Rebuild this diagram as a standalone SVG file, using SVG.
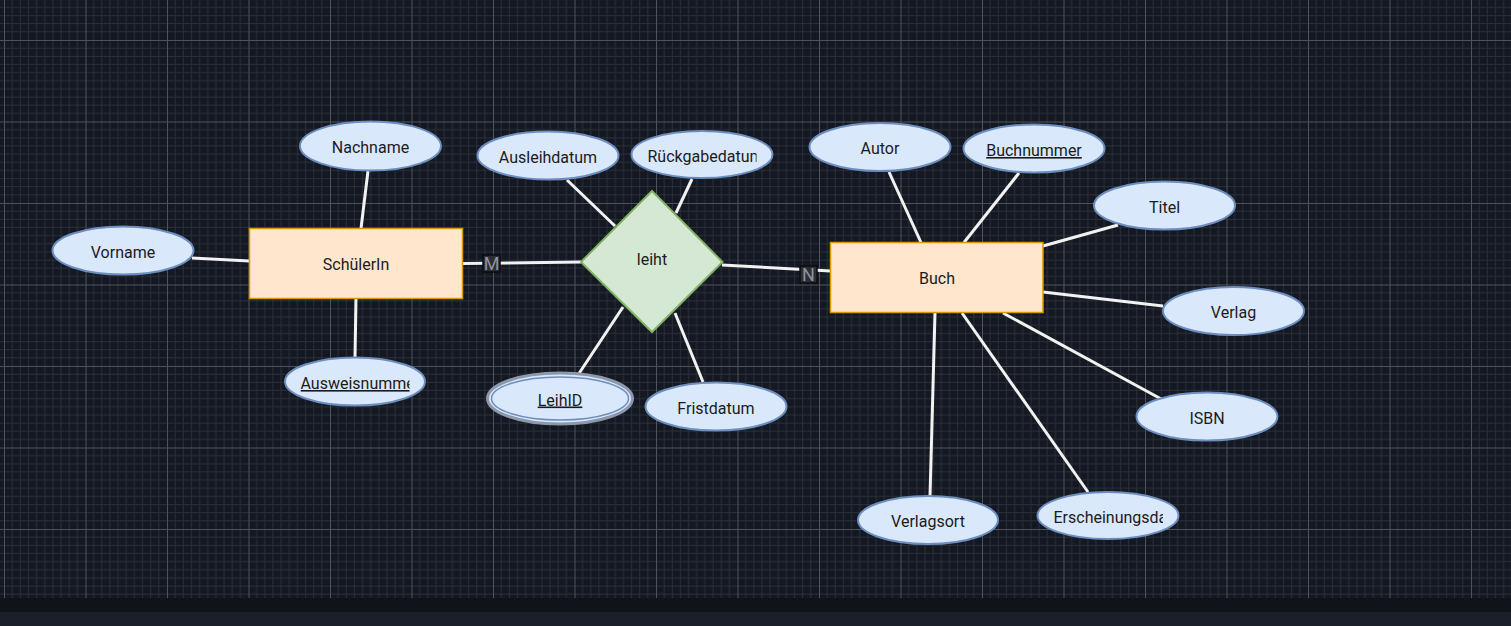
<svg xmlns="http://www.w3.org/2000/svg" width="1511" height="626" viewBox="0 0 1511 626">
  <defs>
    <!-- canvas grid: minor lines every 8.15px, major every 81.5px -->
    <pattern id="grid" patternUnits="userSpaceOnUse" x="4" y="40" width="81.5" height="81.5">
      <path d="M8.15 0V81.5M16.3 0V81.5M24.45 0V81.5M32.6 0V81.5M40.75 0V81.5M48.9 0V81.5M57.05 0V81.5M65.2 0V81.5M73.35 0V81.5M0 8.15H81.5M0 16.3H81.5M0 24.45H81.5M0 32.6H81.5M0 40.75H81.5M0 48.9H81.5M0 57.05H81.5M0 65.2H81.5M0 73.35H81.5" stroke="#2b2f38" stroke-width="1" fill="none"/>
      <path d="M0.5 0V81.5M0 0.5H81.5" stroke="#4e525a" stroke-width="1" fill="none"/>
    </pattern>
    <clipPath id="clipAusweis"><rect x="300.5" y="360" width="109" height="44"/></clipPath>
    <clipPath id="clipRueck"><rect x="647.5" y="132" width="109" height="44"/></clipPath>
    <clipPath id="clipErsch"><rect x="1053.5" y="494" width="109.5" height="44"/></clipPath>
  </defs>
  <style>
    .attr { fill: #dae8fc; stroke: #6c8ebf; stroke-width: 2; }
    .entity { fill: #ffe6cc; stroke: #d79b00; stroke-width: 1.5; }
    .rel { fill: #d5e8d4; stroke: #82b366; stroke-width: 2; }
    .lbl { font-family: Roboto, "Liberation Sans", sans-serif; font-size: 16px; fill: #1b1b1b; text-anchor: middle; }
    .left { text-anchor: start; }
    .key { text-decoration: underline; }
    .edge { stroke: #f2f2f2; stroke-width: 3; fill: none; }
    .card rect { fill: #2c2f36; stroke: #0b0c10; stroke-width: 1.5; }
    .card text { font-family: Roboto, "Liberation Sans", sans-serif; font-size: 18px; fill: #8f939a; text-anchor: middle; }
  </style>

  <!-- background -->
  <rect x="0" y="0" width="1511" height="626" fill="#141822"/>
  <rect x="0" y="0" width="1511" height="598" fill="url(#grid)"/>
  <rect x="0" y="598" width="1511" height="14" fill="#10131a"/>
  <rect x="0" y="612" width="1511" height="14" fill="#1a1f2a"/>

  <!-- connectors -->
  <g id="connectors">
    <line class="edge" x1="192" y1="258" x2="249.5" y2="261"/>
    <line class="edge" x1="368" y1="171" x2="361" y2="228.5"/>
    <line class="edge" x1="356" y1="298.5" x2="355" y2="357"/>
    <line class="edge" x1="463" y1="263.5" x2="581" y2="262"/>
    <line class="edge" x1="567" y1="180" x2="615" y2="226"/>
    <line class="edge" x1="692" y1="179" x2="676" y2="213"/>
    <line class="edge" x1="578" y1="375" x2="623" y2="307"/>
    <line class="edge" x1="703" y1="382" x2="675" y2="313"/>
    <line class="edge" x1="722" y1="265" x2="830.5" y2="271"/>
    <line class="edge" x1="889" y1="172" x2="921" y2="242.5"/>
    <line class="edge" x1="1019" y1="173" x2="964" y2="242.5"/>
    <line class="edge" x1="1118" y1="225" x2="1043" y2="246"/>
    <line class="edge" x1="1043" y1="292" x2="1163" y2="306"/>
    <line class="edge" x1="1003" y1="313" x2="1163" y2="400"/>
    <line class="edge" x1="962" y1="313" x2="1088" y2="492"/>
    <line class="edge" x1="935" y1="313" x2="930" y2="496"/>
    <g class="card">
      <rect x="483" y="255" width="17" height="17"/>
      <text x="491.5" y="270">M</text>
    </g>
    <g class="card">
      <rect x="800" y="266" width="17" height="17"/>
      <text x="808.5" y="281">N</text>
    </g>
  </g>

  <!-- entities -->
  <g id="schuelerin">
    <rect class="entity" x="249.5" y="228.5" width="213" height="70"/>
    <text class="lbl" x="356" y="270">SchülerIn</text>
  </g>
  <g id="buch">
    <rect class="entity" x="830.5" y="242.5" width="212.5" height="70"/>
    <text class="lbl" x="937" y="284">Buch</text>
  </g>

  <!-- relationship -->
  <g id="leiht">
    <polygon class="rel" points="652,191 722.5,262 652,332 581,262"/>
    <text class="lbl" x="652" y="265">leiht</text>
  </g>

  <!-- attributes of SchülerIn -->
  <g id="nachname">
    <ellipse class="attr" cx="370.5" cy="146" rx="70.5" ry="24.5"/>
    <text class="lbl" x="370.5" y="153">Nachname</text>
  </g>
  <g id="vorname">
    <ellipse class="attr" cx="123" cy="250.5" rx="70.5" ry="24"/>
    <text class="lbl" x="123" y="258">Vorname</text>
  </g>
  <g id="ausweisnummer">
    <ellipse class="attr" cx="355" cy="381.5" rx="70" ry="24"/>
    <text class="lbl left key" x="300.5" y="389" clip-path="url(#clipAusweis)">Ausweisnummer</text>
  </g>

  <!-- attributes of leiht -->
  <g id="ausleihdatum">
    <ellipse class="attr" cx="548" cy="155.5" rx="70.5" ry="24"/>
    <text class="lbl" x="548" y="162.5">Ausleihdatum</text>
  </g>
  <g id="rueckgabedatum">
    <ellipse class="attr" cx="702" cy="154.5" rx="70.5" ry="23.5"/>
    <text class="lbl left" x="647.5" y="161.5" clip-path="url(#clipRueck)">Rückgabedatum</text>
  </g>
  <g id="leihid">
    <ellipse cx="560" cy="398.5" rx="72.5" ry="25.5" fill="#dae8fc" stroke="#8d99aa" stroke-width="3"/>
    <ellipse cx="560" cy="398.5" rx="68.5" ry="21.5" fill="none" stroke="#6c8ebf" stroke-width="1.5"/>
    <text class="lbl key" x="560" y="405.5">LeihID</text>
  </g>
  <g id="fristdatum">
    <ellipse class="attr" cx="716" cy="406.5" rx="70.5" ry="24"/>
    <text class="lbl" x="716" y="413.5">Fristdatum</text>
  </g>

  <!-- attributes of Buch -->
  <g id="autor">
    <ellipse class="attr" cx="880" cy="147" rx="70.5" ry="24"/>
    <text class="lbl" x="880" y="154">Autor</text>
  </g>
  <g id="buchnummer">
    <ellipse class="attr" cx="1034" cy="148.5" rx="70.5" ry="24"/>
    <text class="lbl key" x="1034" y="156">Buchnummer</text>
  </g>
  <g id="titel">
    <ellipse class="attr" cx="1164.5" cy="205.5" rx="70.5" ry="24"/>
    <text class="lbl" x="1164.5" y="213">Titel</text>
  </g>
  <g id="verlag">
    <ellipse class="attr" cx="1233.5" cy="311" rx="70.5" ry="24"/>
    <text class="lbl" x="1233.5" y="318">Verlag</text>
  </g>
  <g id="isbn">
    <ellipse class="attr" cx="1207" cy="416.5" rx="70.5" ry="24"/>
    <text class="lbl" x="1207" y="423.5">ISBN</text>
  </g>
  <g id="erscheinungsdatum">
    <ellipse class="attr" cx="1108" cy="515.5" rx="70.5" ry="23.5"/>
    <text class="lbl left" x="1053.5" y="522.5" clip-path="url(#clipErsch)">Erscheinungsdatum</text>
  </g>
  <g id="verlagsort">
    <ellipse class="attr" cx="928" cy="520" rx="70" ry="24"/>
    <text class="lbl" x="928" y="527">Verlagsort</text>
  </g>
</svg>
